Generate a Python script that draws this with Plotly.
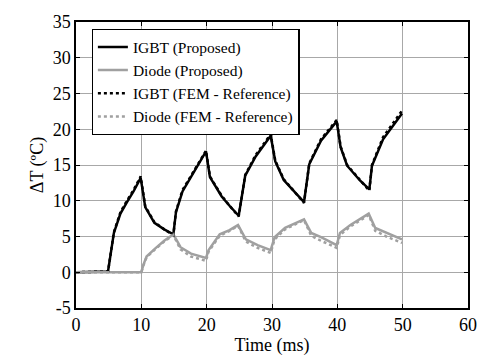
import plotly.graph_objects as go

# IGBT (Proposed)
t_igbt = [0, 4.9, 5.8, 6.8, 7.8, 8.8, 9.9, 10.6, 12.0, 13.5, 14.9, 15.3, 16.3, 17.6, 19.9,
          20.5, 22.3, 23.5, 24.9, 25.9, 27.5, 29.8, 30.5, 31.8, 33.5, 34.9, 35.7, 37.5, 39.9,
          40.5, 41.5, 43.5, 44.9, 45.3, 47.0, 49.9]
v_igbt = [0, 0.1, 5.5, 8.2, 9.8, 11.3, 13.2, 9.1, 6.9, 6.0, 5.3, 8.4, 11.3, 13.3, 16.9,
          13.3, 10.6, 9.3, 7.9, 13.5, 16.2, 19.1, 15.5, 12.9, 11.2, 9.8, 15.1, 18.4, 21.1,
          17.5, 14.9, 12.8, 11.6, 14.9, 18.6, 22.2]

# IGBT (FEM - Reference)
t_igbt_fem = [0, 4.9, 5.8, 6.8, 7.8, 8.8, 9.9, 10.6, 12.0, 13.5, 14.9, 15.3, 16.3, 17.6, 19.9,
              20.5, 22.3, 23.5, 24.9, 25.9, 27.5, 29.8, 30.5, 31.8, 33.5, 34.9, 35.7, 37.5, 39.9,
              40.5, 41.5, 43.5, 44.9, 45.3, 47.0, 49.9]
v_igbt_fem = [0, 0.1, 5.6, 8.4, 10.0, 11.5, 13.4, 9.2, 7.0, 6.0, 5.2, 8.5, 11.5, 13.5, 17.0,
              13.4, 10.7, 9.3, 7.8, 13.6, 16.4, 19.3, 15.6, 13.0, 11.2, 9.7, 15.2, 18.6, 21.3,
              17.6, 15.0, 12.8, 11.4, 15.0, 18.9, 22.6]

# Diode (Proposed)
t_diode = [0, 10.0, 10.3, 10.8, 12.1, 13.5, 14.9, 16.0, 17.6, 19.9, 20.3, 22.0, 23.5, 24.8,
           26.0, 27.8, 29.8, 30.4, 32.0, 33.5, 34.9, 36.0, 37.5, 39.9, 40.4, 42.0, 43.5, 44.8,
           45.8, 47.5, 49.9]
v_diode = [0, 0, 1.0, 2.2, 3.3, 4.4, 5.3, 3.5, 2.6, 2.0, 3.1, 5.3, 5.9, 6.6,
           4.6, 3.8, 3.1, 4.9, 6.2, 6.8, 7.4, 5.5, 4.9, 3.8, 5.5, 6.6, 7.4, 8.2,
           6.2, 5.5, 4.6]

# Diode (FEM - Reference)
t_diode_fem = [0, 10.0, 10.3, 10.8, 12.1, 13.5, 14.9, 16.0, 17.6, 19.9, 20.3, 22.0, 23.5, 24.8,
               26.0, 27.8, 29.8, 30.4, 32.0, 33.5, 34.9, 36.0, 37.5, 39.9, 40.4, 42.0, 43.5, 44.8,
               45.8, 47.5, 49.9]
v_diode_fem = [0, 0, 0.9, 2.1, 3.2, 4.3, 5.2, 3.2, 2.2, 1.6, 2.9, 5.1, 5.8, 6.5,
               4.3, 3.4, 2.7, 4.6, 6.0, 6.7, 7.3, 5.1, 4.4, 3.4, 5.2, 6.4, 7.2, 8.0,
               5.8, 5.0, 4.1]

x_ticks = [0, 10, 20, 30, 40, 50, 60]
y_ticks = [-5, 0, 5, 10, 15, 20, 25, 30, 35]
y_tick_labels = ["-5", "0", "5", "10", "15", "20", "25", "30", "35"]

BLACK = "#000000"
GRAY = "#a0a0a0"
FONT = "Times New Roman"

fig = go.Figure()
fig.add_trace(go.Scatter(x=t_igbt, y=v_igbt, mode="lines", name="IGBT (Proposed)",
                         line=dict(color=BLACK, width=2.5)))
fig.add_trace(go.Scatter(x=t_diode, y=v_diode, mode="lines", name="Diode (Proposed)",
                         line=dict(color=GRAY, width=2.5)))
fig.add_trace(go.Scatter(x=t_igbt_fem, y=v_igbt_fem, mode="lines", name="IGBT (FEM - Reference)",
                         line=dict(color=BLACK, width=2.5, dash="dot")))
fig.add_trace(go.Scatter(x=t_diode_fem, y=v_diode_fem, mode="lines", name="Diode (FEM - Reference)",
                         line=dict(color=GRAY, width=2.5, dash="dot")))

axis_common = dict(
    showgrid=True, gridcolor="#a8a8a8", gridwidth=1.3,
    showline=True, linecolor=BLACK, linewidth=1.5, mirror="ticks",
    ticks="inside", ticklen=4, tickcolor=BLACK, tickwidth=1,
    zeroline=False,
    tickfont=dict(size=18, color=BLACK),
)

fig.update_layout(
    width=489, height=360,
    margin=dict(l=76, r=12, t=14, b=46),
    paper_bgcolor="white", plot_bgcolor="white",
    font=dict(family=FONT, color=BLACK, size=18),
    xaxis=dict(range=[0, 60], tickvals=x_ticks,
               title=dict(text="Time (ms)", font=dict(size=18), standoff=0),
               **axis_common),
    yaxis=dict(range=[-5, 35], tickvals=y_ticks, ticktext=y_tick_labels,
               title=dict(text="ΔT (ºC)", font=dict(size=18), standoff=4),
               **axis_common),
    legend=dict(x=0.04, y=0.975, xanchor="left", yanchor="top",
                bgcolor="white", bordercolor=BLACK, borderwidth=1.2,
                font=dict(size=15.5, color=BLACK),
                tracegroupgap=0, itemwidth=30),
    showlegend=True,
)

fig.write_html("out.html")
